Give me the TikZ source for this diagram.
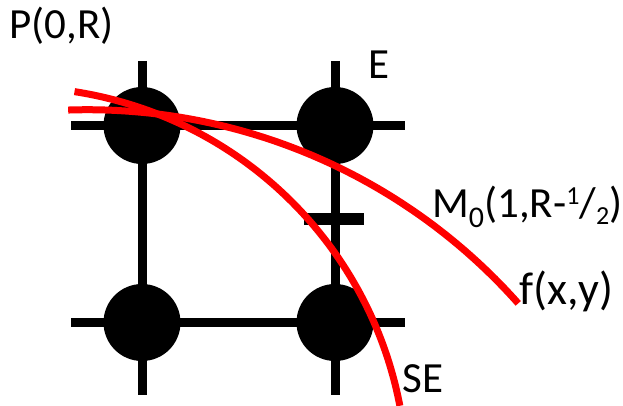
\documentclass[tikz,border=0pt]{standalone}
\usepackage{fontspec}
\setmainfont{Carlito}
\begin{document}
\begin{tikzpicture}[x=1pt,y=-1pt,
  gridline/.style={line width=9pt},
  dot/.style={circle, fill=black, minimum size=77pt, inner sep=0pt},
  curve/.style={red, line width=7pt},
  lbl/.style={anchor=base west, inner sep=0pt, font=\fontsize{43}{50}\selectfont},
  tickmark/.style={line width=12pt}]
\useasboundingbox (0,0) rectangle (623,406);
% grid line ends
\coordinate (v1t) at (142,61);  \coordinate (v1b) at (142,395);
\coordinate (v2t) at (335,61);  \coordinate (v2b) at (335,395);
\coordinate (h1l) at (71,125.5); \coordinate (h1r) at (405,125.5);
\coordinate (h2l) at (71,322.5); \coordinate (h2r) at (405,322.5);
\draw[gridline] (v1t) -- (v1b);
\draw[gridline] (v2t) -- (v2b);
\draw[gridline] (h1l) -- (h1r);
\draw[gridline] (h2l) -- (h2r);
% pixels
\node[dot] (p) at (142,125.5) {};
\node[dot] (e) at (335,125.5) {};
\node[dot] (sw) at (142,322.5) {};
\node[dot] (se) at (335,322.5) {};
% midpoint tick
\coordinate (m1) at (304,219); \coordinate (m2) at (364,219);
\draw[tickmark] (m1) -- (m2);
% curves
\draw[curve] plot[domain=-81.2:-10.8, samples=90] ({14.5+392.3*cos(\x)},{479.3+392.3*sin(\x)});
\draw[curve] plot[domain=-91.9:-41.6, samples=90] ({87.3+576.3*cos(\x)},{686+576.3*sin(\x)});
% labels
\node[lbl] (lp) at (9,39) {P(0,R)};
\node[lbl] (le) at (368.5,79) {E};
\node[lbl] (lm) at (432,217) {M\raisebox{-10pt}{\fontsize{30}{30}\selectfont 0}(1,R-\raisebox{13pt}{\fontsize{26}{26}\selectfont 1}/\raisebox{-7pt}{\fontsize{26}{26}\selectfont 2})};
\node[lbl, font=\fontsize{46}{52}\selectfont] (lf) at (519,304) {f(x,y)};
\node[lbl] (lse) at (402.5,392) {SE};
\end{tikzpicture}
\end{document}
